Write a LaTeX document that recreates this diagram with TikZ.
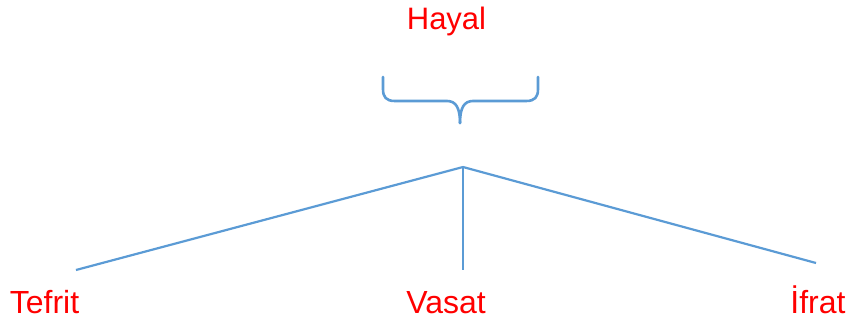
\documentclass[tikz,border=0pt]{standalone}
\usepackage{fontspec}
\setmainfont{Liberation Sans}
\definecolor{lineblue}{RGB}{91,155,213}
\begin{document}
\begin{tikzpicture}[x=1pt,y=-1pt,
  lbl/.style={text=red,font=\fontsize{32}{38}\selectfont,anchor=base,inner sep=0pt},
  conn/.style={draw=lineblue,line width=2.2pt},
  brace/.style={draw=lineblue,line width=2.6pt,line cap=round}]
\useasboundingbox (0,0) rectangle (851,327);
\node[lbl,font=\fontsize{31}{36}\selectfont] (hayal) at (446.5,29.5) {Hayal};
\node[lbl] (tefrit) at (44.5,313) {Tefrit};
\node[lbl] (vasat) at (446,313) {Vasat};
\node[lbl] (ifrat) at (818,313) {İfrat};
\coordinate (apex) at (463,167);
\coordinate (lt) at (76,270);
\coordinate (mt) at (463,270);
\coordinate (rt) at (816,263);
\draw[conn] (apex) -- (lt);
\draw[conn] (apex) -- (mt);
\draw[conn] (apex) -- (rt);
\coordinate (bl) at (383,77);
\coordinate (br) at (538,77);
\coordinate (btip) at (460,123);
\draw[brace] (bl) -- (383,89) .. controls (383,97) and (386,101) .. (395,101)
  -- (447,101) .. controls (456,101) and (460,108) .. (btip);
\draw[brace] (br) -- (538,89) .. controls (538,97) and (535,101) .. (526,101)
  -- (473,101) .. controls (464,101) and (460,108) .. (btip);
\end{tikzpicture}
\end{document}
